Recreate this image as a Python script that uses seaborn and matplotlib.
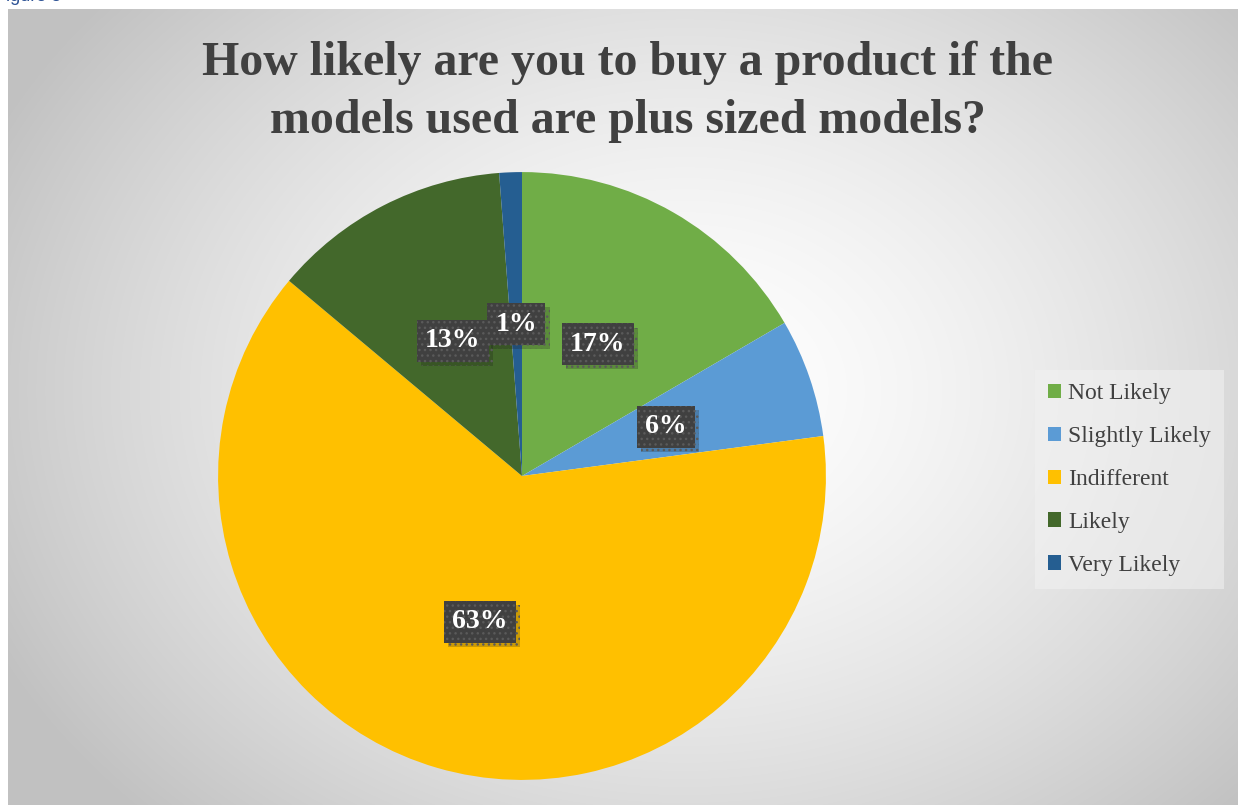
import numpy as np
import matplotlib
matplotlib.use("Agg")
import matplotlib.pyplot as plt
import matplotlib.patheffects as pe
import seaborn as sns

categories = ["Not Likely", "Slightly Likely", "Indifferent", "Likely", "Very Likely"]
values = [16.6, 6.3, 63.2, 12.7, 1.2]
colors = ["#70ad47", "#5b9bd5", "#ffc000", "#43682b", "#255e91"]
title = "How likely are you to buy a product if the\nmodels used are plus sized models?"

sns.set_theme(style="white")
plt.rcParams["font.family"] = ["Liberation Serif", "DejaVu Serif"]
plt.rcParams["hatch.linewidth"] = 1.0

W, H = 1238, 805
fig = plt.figure(figsize=(W / 100, H / 100), dpi=100)
fig.patch.set_facecolor("white")

# chart area with radial gradient background
x0, y0 = 8, 9
bg = fig.add_axes([x0 / W, 0, 1 - x0 / W, (H - y0) / H], zorder=0)
bw, bh = W - x0, H - y0
yy, xx = np.mgrid[0:bh, 0:bw]
cx, cy = bw * 0.55, bh * 0.48
d = np.sqrt(((xx - cx) / (bw * 0.62)) ** 2 + ((yy - cy) / (bh * 0.75)) ** 2)
d = np.clip(d, 0, 1)
shade = 1.0 - 0.24 * d ** 1.5
bg.imshow(np.dstack([shade, shade, shade]), aspect="auto", extent=[0, 1, 0, 1])
bg.set_axis_off()

fig.text(-0.004, 1.004, "Figure 8", fontsize=13, color="#2f5496", va="center", ha="left",
         family=["Liberation Sans"])

# pie axes
cxp, cyp, R = 522, 476, 310
ax = fig.add_axes([(cxp - R) / W, (H - cyp - R) / H, 2 * R / W, 2 * R / H], zorder=1)
ax.set_facecolor("none")
wedges, texts, autotexts = ax.pie(
    values, colors=colors, startangle=90, counterclock=False,
    autopct=lambda p: f"{p:.0f}%", pctdistance=0.5, radius=1.0,
    wedgeprops=dict(linewidth=0),
    textprops=dict(color="white", fontsize=20, fontweight="bold"),
)
ax.set_xlim(-1.02, 1.02)
ax.set_ylim(-1.02, 1.02)
ax.set_aspect("equal")
ax.set_axis_off()
for t in autotexts:
    t.set_bbox(dict(boxstyle="square,pad=0.3", facecolor="#404040", edgecolor="#5a5a5a",
                    linewidth=0, hatch="..."))
    t.get_bbox_patch().set_path_effects([pe.withSimplePatchShadow(offset=(3, -3), alpha=0.22)])

fig.text(0.507, 1 - 92 / H, title, ha="center", va="center", fontsize=34.5, fontweight="bold",
         color="#404040", linespacing=1.42)

leg = ax.legend(wedges, categories, loc="center left", bbox_to_anchor=(1035 / W, 1 - 479.5 / H),
                bbox_transform=fig.transFigure, frameon=True, fontsize=17,
                handlelength=0.55, handleheight=0.55, handletextpad=0.3,
                labelspacing=0.93, borderpad=0.55, borderaxespad=0.0, fancybox=False)
leg.get_frame().set_facecolor("#f2f2f2")
leg.get_frame().set_alpha(0.55)
leg.get_frame().set_linewidth(0)
for t in leg.get_texts():
    t.set_color("#404040")

fig.savefig("out.png", dpi=100)
